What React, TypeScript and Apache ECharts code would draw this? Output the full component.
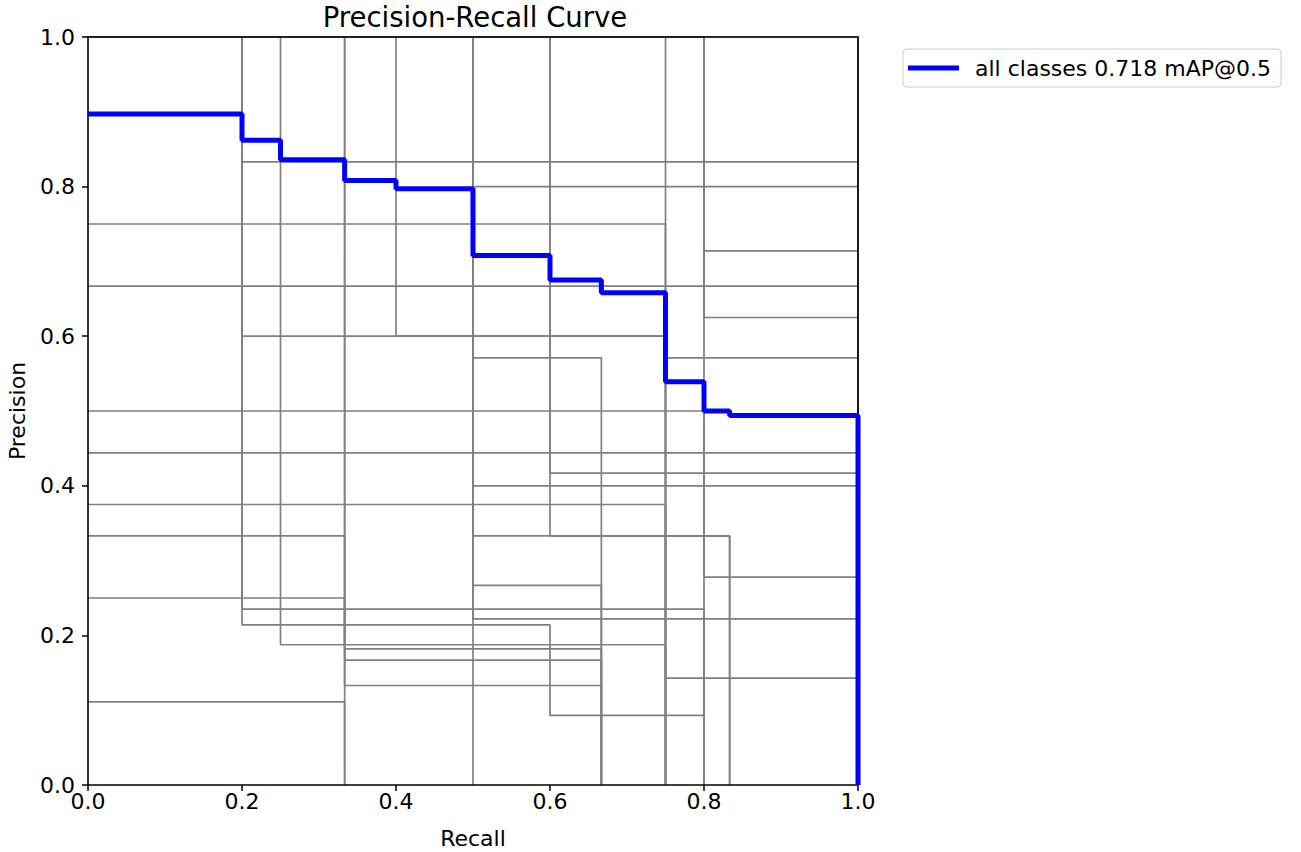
import React, { useEffect, useRef } from "react";
import * as echarts from "echarts";

// axis ticks
const recallTicks = [0, 0.2, 0.4, 0.6, 0.8, 1.0];
const precisionTicks = [0, 0.2, 0.4, 0.6, 0.8, 1.0];

// "all classes" mean curve: recall where each level ends, and precision level
const allRecallEnds = [0.2, 0.25, 0.3333, 0.4, 0.5, 0.6, 0.6667, 0.75, 0.8, 0.8333, 1.0];
const allPrecision = [0.897, 0.862, 0.836, 0.808, 0.797, 0.708, 0.675, 0.658, 0.539, 0.5, 0.494];
const allLabel = "all classes 0.718 mAP@0.5";

// per-class curves: pairs of [recall where level ends, precision level]
const class01 = [[0.3333, 0.111]];
const class02 = [[0.3333, 0.25], [0.6667, 0.167]];
const class03 = [[0.3333, 0.333], [0.6667, 0.182]];
const class04 = [[0.3333, 1.0], [0.6667, 0.133]];
const class05 = [[0.2, 1.0], [1.0, 0.833]];
const class06 = [[0.2, 1.0], [0.75, 0.6]];
const class07 = [[0.2, 1.0], [0.8, 0.235]];
const class08 = [[0.2, 1.0], [0.6, 0.214], [0.8, 0.093]];
const class09 = [[0.25, 1.0], [0.75, 0.1875], [1.0, 0.143]];
const class10 = [[0.4, 1.0], [0.75, 0.6]];
const class11 = [[0.5, 1.0], [1.0, 0.8]];
const class12 = [[0.5, 1.0], [0.6667, 0.571]];
const class13 = [[0.5, 1.0], [1.0, 0.4]];
const class14 = [[0.5, 1.0], [0.8333, 0.333]];
const class15 = [[0.5, 1.0], [0.6667, 0.267]];
const class16 = [[0.5, 1.0], [1.0, 0.222]];
const class17 = [[0.5, 1.0]];
const class18 = [[0.6, 1.0], [1.0, 0.417]];
const class19 = [[0.75, 0.75], [1.0, 0.571]];
const class20 = [[0.75, 0.375]];
const class21 = [[0.75, 1.0]];
const class22 = [[1.0, 0.667]];
const class23 = [[0.8, 0.5], [1.0, 0.278]];
const class24 = [[1.0, 0.444]];
const class25 = [[0.8, 1.0], [1.0, 0.714]];
const class26 = [[0.8, 1.0], [1.0, 0.625]];
const class27 = [[1.0, 1.0]];
const class28 = [[0.3333, 1.0]];
const class29 = [[0.8, 1.0]];
const class30 = [[0.6, 1.0], [0.8333, 0.333]];

const classCurves = [
  class01, class02, class03, class04, class05, class06, class07, class08, class09, class10,
  class11, class12, class13, class14, class15, class16, class17, class18, class19, class20,
  class21, class22, class23, class24, class25, class26, class27, class28, class29, class30,
];

function stepPoints(segs: number[][]) {
  const pts: number[][] = [];
  let r0 = 0;
  for (const [r, p] of segs) {
    pts.push([r0, p]);
    pts.push([r, p]);
    r0 = r;
  }
  pts.push([r0, 0]);
  return pts;
}

const FONT = "DejaVu Sans";

export default function App() {
  const ref = useRef<HTMLDivElement>(null);
  useEffect(() => {
    if (!ref.current) return;
    const chart = echarts.init(ref.current, undefined, { renderer: "svg" });
    const graySeries = classCurves.map((c, i) => ({
      type: "line",
      name: "class" + i,
      data: stepPoints(c),
      symbol: "none",
      showSymbol: false,
      silent: true,
      z: 2,
      lineStyle: { color: "#808080", width: 1.7 },
      xAxisIndex: 0,
      yAxisIndex: 0,
    }));
    const allSegs = allRecallEnds.map((r, i) => [r, allPrecision[i]]);
    const frameLine = { show: true, onZero: false, lineStyle: { color: "#000", width: 1.6 } };
    const option: any = {
      animation: false,
      backgroundColor: "#ffffff",
      title: {
        text: "Precision-Recall Curve",
        left: 470,
        top: -2,
        textAlign: "center",
        textStyle: { fontFamily: FONT, fontSize: 27.5, fontWeight: "normal", color: "#000" },
      },
      legend: {
        left: 903,
        top: 49,
        data: [{ name: allLabel, icon: "rect" }],
        itemWidth: 51,
        itemHeight: 5,
        padding: [6, 10, 6, 5],
        borderColor: "#cccccc",
        borderWidth: 1,
        borderRadius: 4,
        textStyle: { fontFamily: FONT, fontSize: 22, color: "#000", lineHeight: 26, padding: [0, 0, 0, 11] },
      },
      grid: { left: 88, top: 37, width: 770, height: 748, containLabel: false, outerBoundsMode: "none" },
      xAxis: [
        {
          type: "value",
          min: 0,
          max: 1,
          interval: 0.2,
          position: "bottom",
          z: 3,
          name: "Recall",
          nameLocation: "middle",
          nameGap: 42,
          nameTextStyle: { fontFamily: FONT, fontSize: 22, color: "#000" },
          axisLine: frameLine,
          axisTick: { show: true, inside: false, length: 6, lineStyle: { color: "#000", width: 1.5 } },
          axisLabel: {
            fontFamily: FONT,
            fontSize: 22,
            color: "#000",
            margin: 5,
            formatter: (v: number) => (recallTicks.includes(v) ? v.toFixed(1) : ""),
          },
          splitLine: { show: false },
        },
        {
          type: "value",
          min: 0,
          max: 1,
          position: "top",
          z: 3,
          axisLine: frameLine,
          axisTick: { show: false },
          axisLabel: { show: false },
          splitLine: { show: false },
        },
      ],
      yAxis: [
        {
          type: "value",
          min: 0,
          max: 1,
          interval: 0.2,
          position: "left",
          z: 3,
          name: "Precision",
          nameLocation: "middle",
          nameGap: 60,
          nameTextStyle: { fontFamily: FONT, fontSize: 22, color: "#000" },
          axisLine: frameLine,
          axisTick: { show: true, inside: false, length: 6, lineStyle: { color: "#000", width: 1.5 } },
          axisLabel: {
            fontFamily: FONT,
            fontSize: 22,
            color: "#000",
            margin: 13,
            formatter: (v: number) => (precisionTicks.includes(v) ? v.toFixed(1) : ""),
          },
          splitLine: { show: false },
        },
        {
          type: "value",
          min: 0,
          max: 1,
          position: "right",
          z: 3,
          axisLine: frameLine,
          axisTick: { show: false },
          axisLabel: { show: false },
          splitLine: { show: false },
        },
      ],
      series: [
        ...graySeries,
        {
          type: "line",
          name: allLabel,
          data: stepPoints(allSegs),
          symbol: "none",
          showSymbol: false,
          z: 5,
          clip: false,
          color: "#0000ff",
          lineStyle: { color: "#0000ff", width: 5 },
          xAxisIndex: 0,
          yAxisIndex: 0,
        },
      ],
    };
    chart.setOption(option);
    return () => chart.dispose();
  }, []);
  return (
    <div
      ref={ref}
      style={{ position: "absolute", left: 0, top: 0, width: 1301, height: 852, background: "#fff" }}
    />
  );
}
